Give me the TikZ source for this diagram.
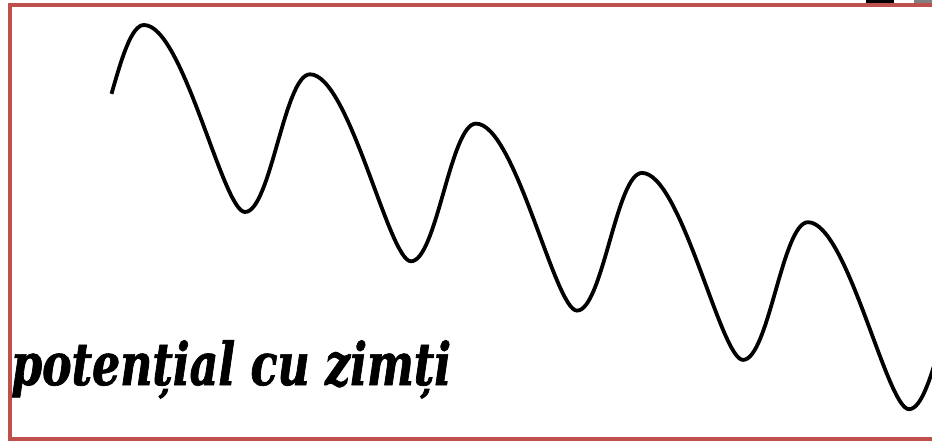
\documentclass[tikz,border=0pt]{standalone}
\usepackage{fontspec}
\newfontfamily\zimfont[FakeStretch=0.75, FakeBold=1.2]{DejaVu Serif}
\usepackage{xcolor}
\definecolor{framecol}{RGB}{192,80,77}
\definecolor{markgray}{RGB}{128,128,128}

\begin{document}
\begin{tikzpicture}[x=1pt, y=-1pt, every node/.style={inner sep=0pt}]
  % Canvas 932x445
  \path[use as bounding box] (0,0) rectangle (932,445);
  \clip (0,0) rectangle (932,445);
  \fill[black] (866,0) rectangle (894,3.3);
  \fill[markgray] (914,0) rectangle (932,3.3);
  \draw[framecol, line width=4pt] (10,5.3) rectangle (960,439);
  % sawtooth potential, one period per step
  \draw[line width=3.8pt] (111.5,93.85) .. controls (121.4,59.4) and (131.25,25) .. (144,25)
    \foreach \k in {0,...,4}{
      .. controls (183+166*\k,25+49.3*\k) and (223+166*\k,212+49.3*\k) .. (245+166*\k,212+49.3*\k)
      .. controls (270.5+166*\k,212+49.3*\k) and (284.5+166*\k,74.3+49.3*\k) .. (310+166*\k,74.3+49.3*\k)
    };
  \node[anchor=base west, font=\zimfont\bfseries\itshape\fontsize{59}{60}\selectfont] (label) at (11,385) {potențial cu zimți};
\end{tikzpicture}
\end{document}
